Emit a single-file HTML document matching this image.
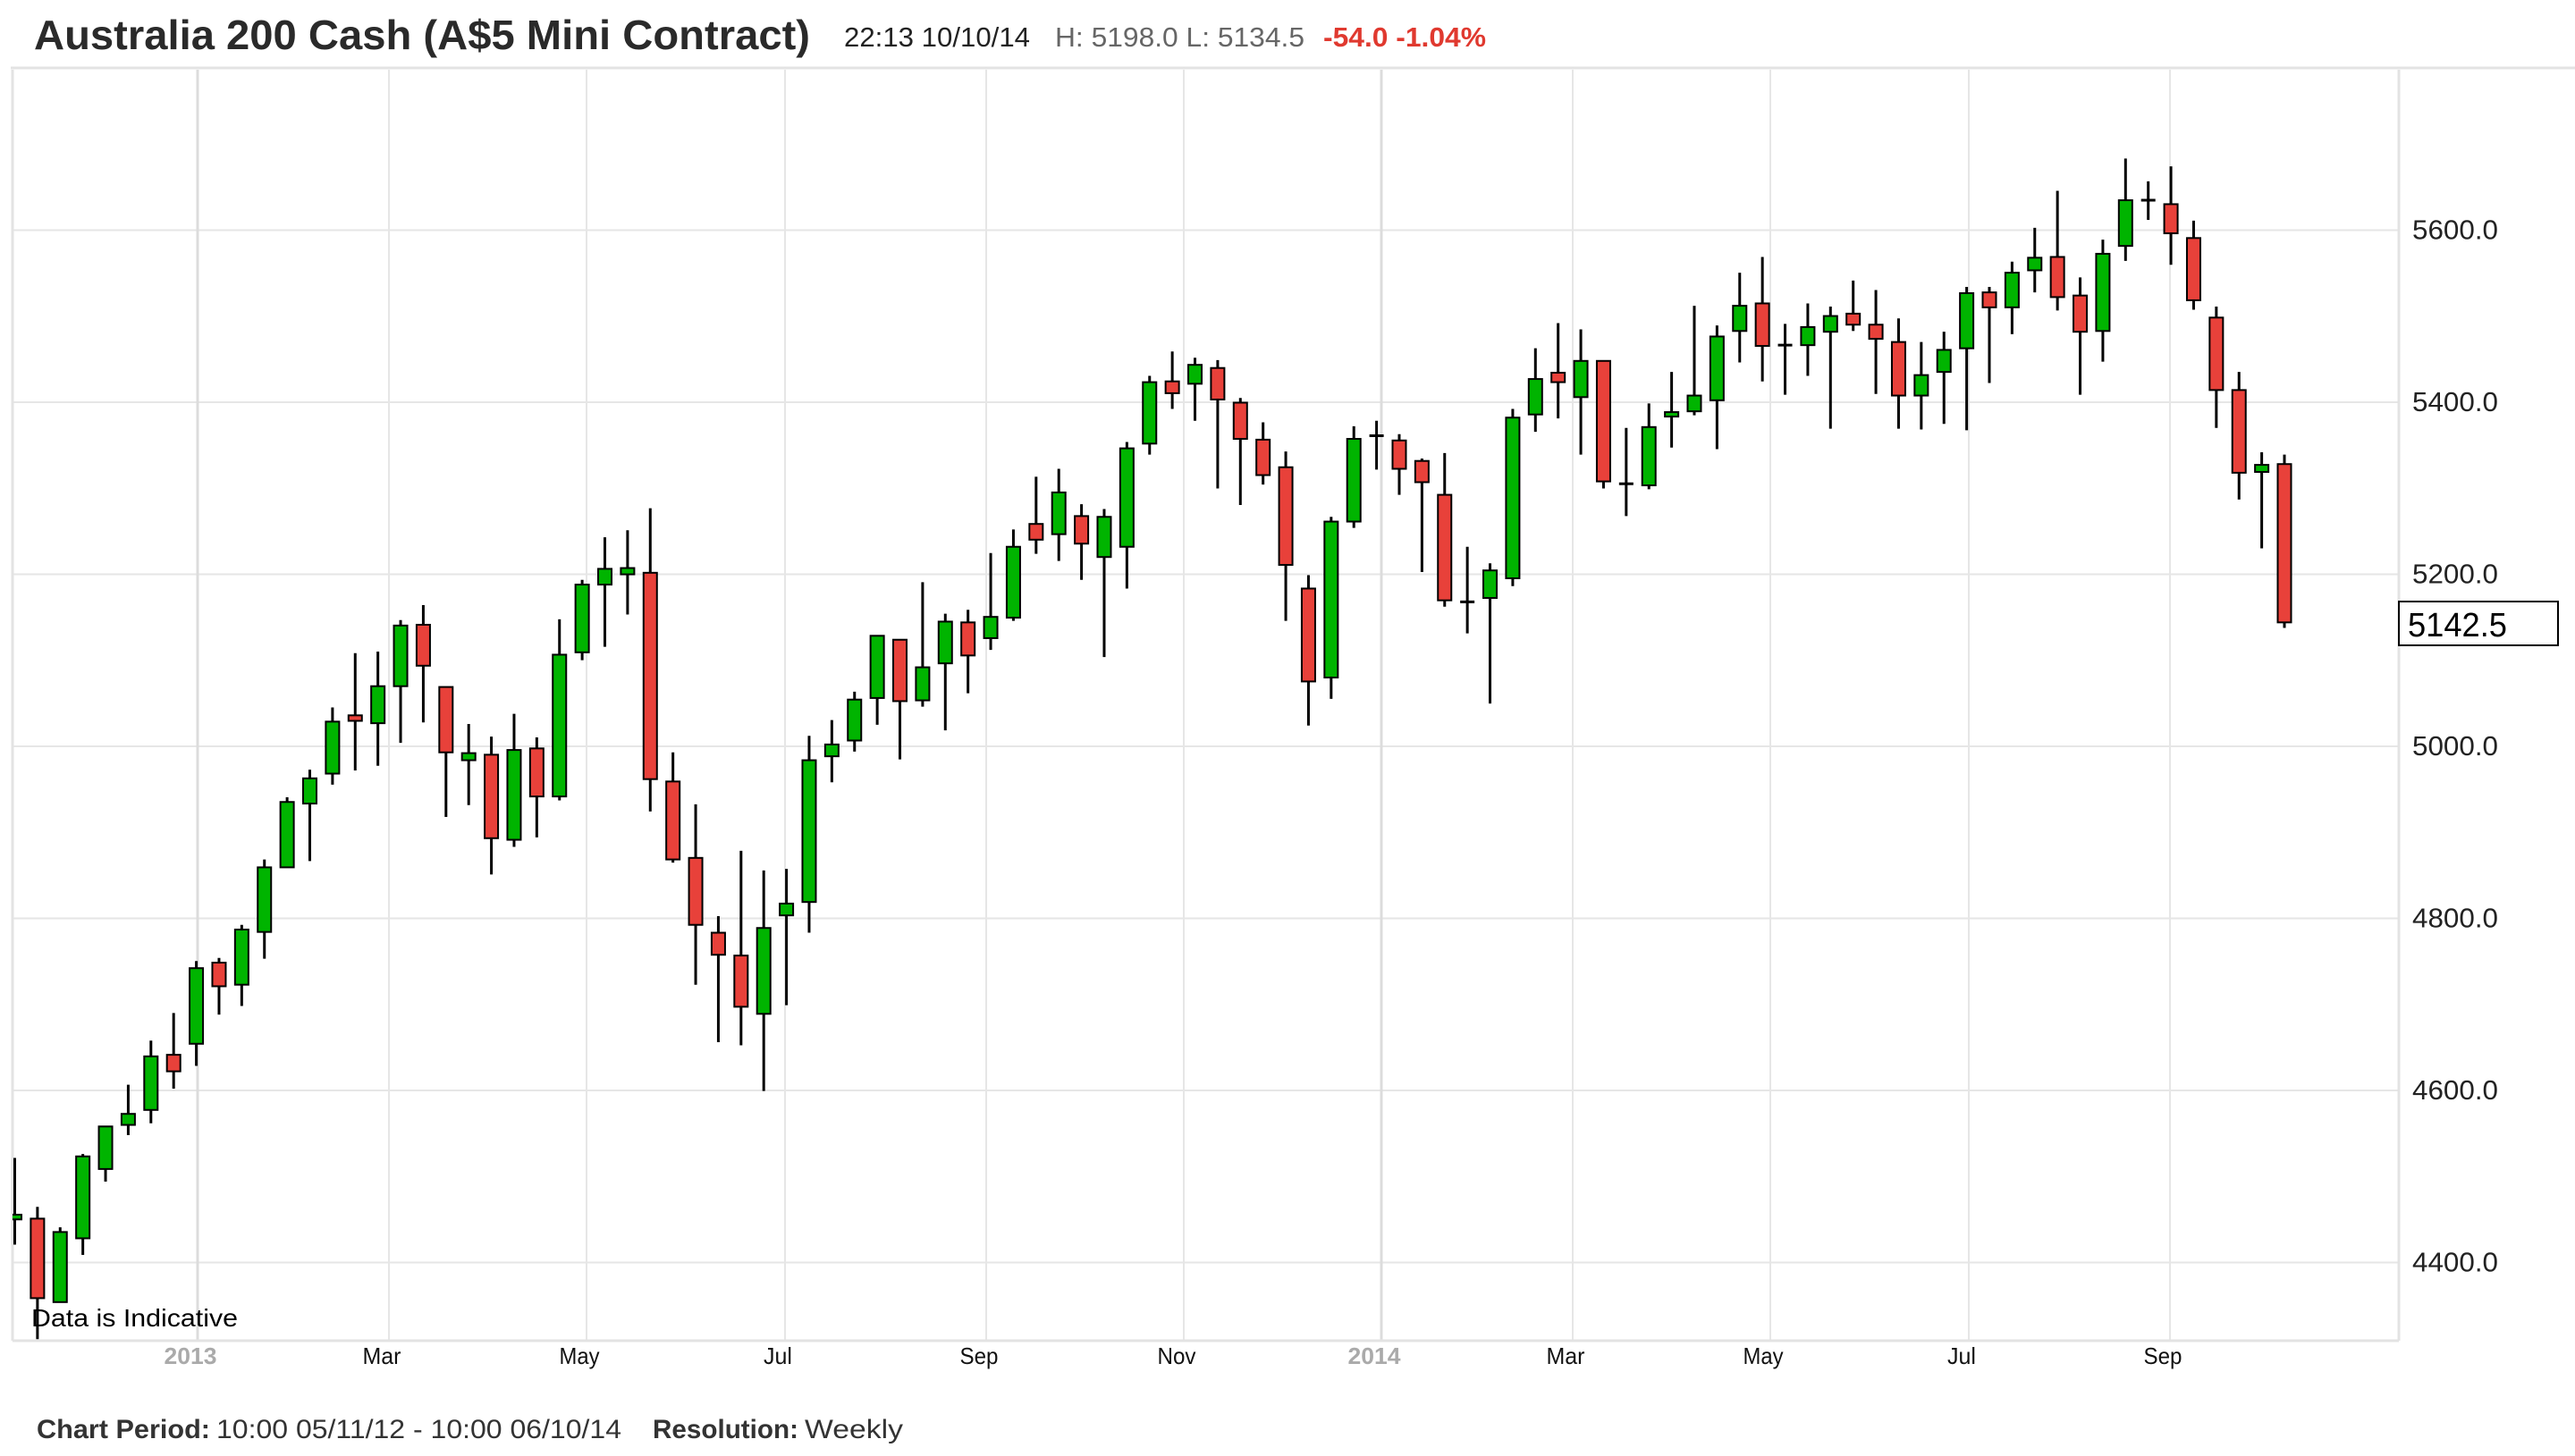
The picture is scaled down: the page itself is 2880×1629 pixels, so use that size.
<!DOCTYPE html>
<html><head><meta charset="utf-8">
<style>
html,body{margin:0;padding:0;background:#fff;}
svg{display:block;}
text{font-family:"Liberation Sans",Arial,sans-serif;}
</style></head>
<body>
<svg id="c" xmlns="http://www.w3.org/2000/svg" width="2880" height="1629" viewBox="0 0 2880 1629">
<rect width="2880" height="1629" fill="#fff"/>
<text x="38" y="55" font-size="46" font-weight="bold" fill="#2a2a2a" textLength="868" lengthAdjust="spacingAndGlyphs">Australia 200 Cash (A$5 Mini Contract)</text>
<text x="944" y="52" font-size="31" fill="#222" textLength="208" lengthAdjust="spacingAndGlyphs">22:13 10/10/14</text>
<text x="1180" y="52" font-size="31" fill="#666" textLength="279" lengthAdjust="spacingAndGlyphs">H: 5198.0  L: 5134.5</text>
<text x="1480" y="52" font-size="31" font-weight="bold" fill="#e0392f" textLength="182" lengthAdjust="spacingAndGlyphs">-54.0  -1.04%</text>
<line x1="12" y1="76" x2="2880" y2="76" stroke="#e3e3e3" stroke-width="3"/>
<g id="grid"></g>
<g id="candles"></g>
<rect x="2683" y="673" width="178" height="49" fill="#fff" stroke="#000" stroke-width="2"/>
<text x="2693" y="712" font-size="38" fill="#000" textLength="111" lengthAdjust="spacingAndGlyphs">5142.5</text>
<text x="35" y="1484" font-size="28" fill="#000" font-family="'DejaVu Sans', sans-serif" textLength="231" lengthAdjust="spacingAndGlyphs">Data is Indicative</text>
<text x="41" y="1609" font-size="30" font-weight="bold" fill="#333" textLength="194" lengthAdjust="spacingAndGlyphs">Chart Period:</text>
<text x="242" y="1609" font-size="30" fill="#333" textLength="453" lengthAdjust="spacingAndGlyphs">10:00 05/11/12 - 10:00 06/10/14</text>
<text x="730" y="1609" font-size="30" font-weight="bold" fill="#333" textLength="163" lengthAdjust="spacingAndGlyphs">Resolution:</text>
<text x="900" y="1609" font-size="30" fill="#333" textLength="110" lengthAdjust="spacingAndGlyphs">Weekly</text>
</svg>
<script>
(function(){
var NS="http://www.w3.org/2000/svg";
function el(p,n,a,t){var e=document.createElementNS(NS,n);for(var k in a)e.setAttribute(k,a[k]);if(t!=null)e.textContent=t;p.appendChild(e);return e;}
var grid=document.getElementById('grid'),cg=document.getElementById('candles');
var L=14,R=2683,T=78,B=1500;
var vals=[5600,5400,5200,5000,4800,4600,4400];
for(var i=0;i<7;i++){var y=257.5+i*192.5;
 el(grid,'line',{x1:L,y1:y,x2:R,y2:y,stroke:'#e6e6e6','stroke-width':2});
 el(grid,'text',{x:2698,y:y+10,'font-size':31,fill:'#222',textLength:96,lengthAdjust:'spacingAndGlyphs'},vals[i].toFixed(1));}
var vx=[[221,'2013',1],[435,'Mar',0],[656,'May',0],[878,'Jul',0],[1103,'Sep',0],[1324,'Nov',0],[1545,'2014',1],[1759,'Mar',0],[1980,'May',0],[2202,'Jul',0],[2427,'Sep',0]];
vx.forEach(function(v){
 el(grid,'line',{x1:v[0],y1:T,x2:v[0],y2:B,stroke:v[2]?'#dcdcdc':'#e6e6e6','stroke-width':v[2]?3:2});
 var w=v[2]?59:(v[1]=='May'?45:(v[1]=='Jul'?32:43));
 el(grid,'text',{x:v[0]-8,y:1526,'font-size':26,'text-anchor':'middle','font-weight':v[2]?'bold':'normal',fill:v[2]?'#aaa':'#111',textLength:w,lengthAdjust:'spacingAndGlyphs'},v[1]);
});
el(grid,'line',{x1:L,y1:T,x2:L,y2:B,stroke:'#e3e3e3','stroke-width':3});
el(grid,'line',{x1:R,y1:T,x2:R,y2:B,stroke:'#e3e3e3','stroke-width':3});
el(grid,'line',{x1:L,y1:B,x2:R,y2:B,stroke:'#e3e3e3','stroke-width':3});
var D=[
[1372,1378,1300,1410,'g'],[1377,1478,1362,1530,'r'],[1394,1483,1388,1483,'g'],[1298,1402,1295,1423,'g'],[1260,1314,1260,1330,'g'],
[1244,1258,1207,1271,'g'],[1171,1239,1151,1256,'g'],[1169,1190,1116,1212,'r'],[1059,1155,1050,1183,'g'],[1052,1082,1046,1118,'r'],
[1010,1080,1004,1107,'g'],[931,1013,921,1047,'g'],[848,931,842,931,'g'],[818,850,807,923,'g'],[746,812,728,826,'g'],
[738,745,659,808,'r'],[701,748,657,802,'g'],[624,701,617,773,'g'],[623,675,598,747,'r'],[702,785,702,867,'r'],
[786,795,749,852,'g'],[788,894,765,940,'r'],[782,896,736,905,'g'],[780,841,766,893,'r'],[661,841,616,846,'g'],
[572,658,566,668,'g'],[552,572,512,651,'g'],[551,559,503,610,'g'],[557,819,475,860,'r'],[822,921,785,925,'r'],
[919,1004,851,1080,'r'],[1014,1042,993,1153,'r'],[1043,1108,910,1157,'r'],[1008,1117,935,1215,'g'],[977,992,933,1106,'g'],
[795,975,764,1014,'g'],[775,790,744,823,'g'],[718,770,708,784,'g'],[637,716,637,750,'g'],[642,720,642,794,'r'],
[677,719,569,727,'g'],[619,672,609,757,'g'],[620,662,604,710,'r'],[613,640,532,655,'g'],[524,614,502,618,'g'],
[495,515,435,533,'r'],[455,508,425,542,'g'],[485,520,470,566,'r'],[486,537,476,664,'g'],[399,524,391,577,'g'],
[315,393,307,407,'g'],[314,329,276,349,'r'],[293,317,284,364,'g'],[297,337,287,450,'r'],[341,387,335,471,'r'],
[388,433,366,445,'r'],[423,547,403,618,'r'],[577,695,560,751,'r'],[492,690,486,717,'g'],[387,492,371,500,'g'],
[383,383,364,426,'d'],[389,425,381,458,'r'],[415,442,412,556,'r'],[458,592,405,600,'r'],[594,594,524,634,'d'],
[554,589,545,723,'g'],[360,564,349,574,'g'],[311,356,272,378,'g'],[303,315,240,361,'r'],[288,334,248,407,'g'],
[288,441,288,450,'r'],[444,444,373,485,'d'],[372,446,342,451,'g'],[353,357,302,398,'g'],[332,352,218,357,'g'],
[257,338,243,400,'g'],[218,250,176,290,'g'],[215,269,156,314,'r'],[268,268,241,331,'d'],[245,268,215,307,'g'],
[231,251,219,374,'g'],[228,242,186,250,'r'],[242,260,198,330,'r'],[264,332,234,374,'r'],[306,332,264,375,'g'],
[274,302,251,368,'g'],[202,272,194,376,'g'],[201,220,194,316,'r'],[176,220,162,254,'g'],[157,173,119,201,'g'],
[156,207,72,224,'r'],[205,251,182,331,'r'],[152,250,134,289,'g'],[84,142,31,161,'g'],[84,84,60,109,'d'],
[89,126,41,166,'r'],[132,211,110,223,'r'],[233,325,219,373,'r'],[325,430,302,464,'r'],[420,429,404,526,'g'],
[419,620,407,627,'r']];
function fy(z){return 150+z*0.8812;}
var clip=el(cg,'clipPath',{id:'pc'});el(clip,'rect',{x:L,y:T,width:R-L,height:B-T});
var g=el(cg,'g',{'clip-path':'url(#pc)'});
D.forEach(function(d,i){
 var x=16.5+i*25.385;
 el(g,'line',{x1:x,y1:fy(d[2]),x2:x,y2:fy(d[3]),stroke:'#000','stroke-width':3});
 if(d[4]=='d'){el(g,'line',{x1:x-8,y1:fy(d[0]),x2:x+8,y2:fy(d[0]),stroke:'#000','stroke-width':3});}
 else{var t=fy(d[0]),b=fy(d[1]);if(b-t<5){b=t+5;}
  el(g,'rect',{x:x-7.5,y:t,width:15,height:b-t,fill:d[4]=='g'?'#00b400':'#e8413a',stroke:'#000','stroke-width':2});}
});
})();
</script>
</body></html>
